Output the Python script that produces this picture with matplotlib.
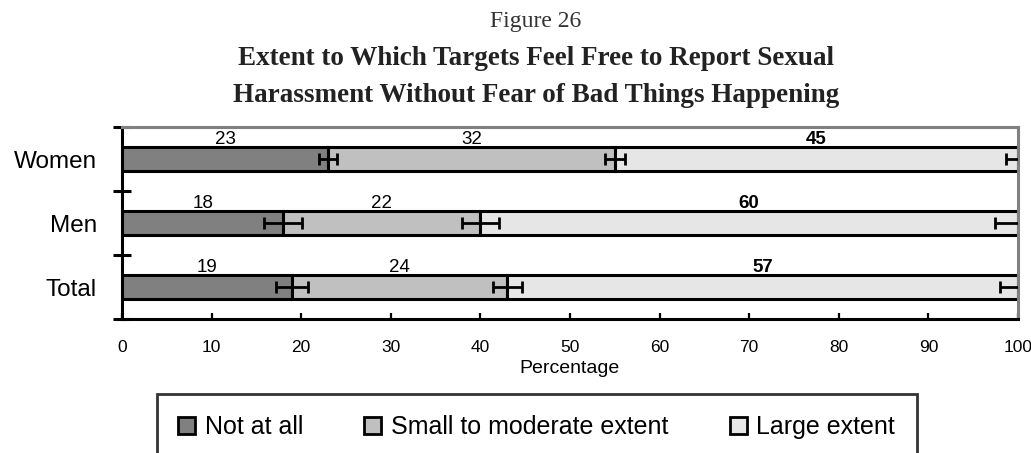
import numpy as np
import matplotlib
matplotlib.use("Agg")
import matplotlib.pyplot as plt

# dados
grupos = ["Women", "Men", "Total"]
series = ["Not at all", "Small to moderate extent", "Large extent"]
nao = [23, 18, 19]
pequeno = [32, 22, 24]
grande = [45, 60, 57]
# erro (meia largura) na ponta de cada segmento
erro_nao = [1.0, 2.1, 1.8]
erro_pequeno = [1.1, 2.1, 1.6]
erro_grande = [1.3, 2.6, 2.0]

cores = ["#808080", "#c0c0c0", "#e6e6e6"]
fonte = "Liberation Sans"

fig = plt.figure(figsize=(10.31, 4.53), dpi=100)
ax = fig.add_axes([0.1183, 0.2958, 0.8691, 0.4238])

y = np.arange(len(grupos))
valores = [nao, pequeno, grande]
erros = [erro_nao, erro_pequeno, erro_grande]
esquerda = np.zeros(len(grupos))
for i, (vals, err) in enumerate(zip(valores, erros)):
    vals = np.array(vals)
    ax.barh(y, vals, left=esquerda, height=0.37, color=cores[i],
            edgecolor="black", linewidth=2.2, label=series[i], zorder=2)
    fim = esquerda + vals
    ax.errorbar(fim, y, xerr=err, fmt="none", ecolor="black", elinewidth=2,
                capsize=4.5, capthick=2, zorder=3)
    for k in range(len(grupos)):
        ax.text(esquerda[k] + vals[k] / 2, y[k] - 0.31, str(vals[k]),
                ha="center", va="center", fontsize=13.5,
                fontweight="bold" if i == 2 else "normal", family=fonte)
    esquerda = fim

ax.set_xlim(0, 100)
ax.set_ylim(2.5, -0.5)
ax.set_xticks(np.arange(0, 101, 10))
ax.tick_params(axis="x", direction="in", length=4.5, width=1.6, labelsize=12.5, pad=15)
ax.set_yticks([-0.5, 0.5, 1.5, 2.5])
ax.set_yticklabels([])
ax.tick_params(axis="y", which="major", direction="inout", length=13, width=2.2)
ax.set_yticks(y, minor=True)
ax.set_yticklabels(grupos, minor=True, fontsize=17.5, family=fonte)
ax.tick_params(axis="y", which="minor", length=0, pad=18)
for lbl in ax.get_xticklabels():
    lbl.set_family(fonte)
ax.set_xlabel("Percentage", fontsize=14, family=fonte, labelpad=4)

for s in ["left", "bottom"]:
    ax.spines[s].set_linewidth(2.2)
    ax.spines[s].set_color("black")
for s in ["top", "right"]:
    ax.spines[s].set_linewidth(2.2)
    ax.spines[s].set_color("#808080")

cx = 536 / 1031
fig.text(cx, 1 - 22 / 453, "Figure 26", ha="center", va="center", fontsize=17,
         family="Liberation Serif", color="#333333")
fig.text(cx, 1 - 77 / 453, "Extent to Which Targets Feel Free to Report Sexual\n"
         "Harassment Without Fear of Bad Things Happening",
         ha="center", va="center", fontsize=19.5, fontweight="bold",
         family="Liberation Serif", linespacing=1.6, color="#222222")

leg = fig.legend(loc="upper left", bbox_to_anchor=(157 / 1031, 1 - 394 / 453),
                 ncol=3, prop={"family": fonte, "size": 18},
                 frameon=True, fancybox=False, edgecolor="black",
                 handlelength=0.68, handleheight=0.68, handletextpad=0.4,
                 columnspacing=2.43, borderpad=0.85, borderaxespad=0)
leg.get_frame().set_linewidth(2)
for h in leg.legend_handles:
    h.set_linewidth(2)

fig.savefig("out.png", dpi=100)
